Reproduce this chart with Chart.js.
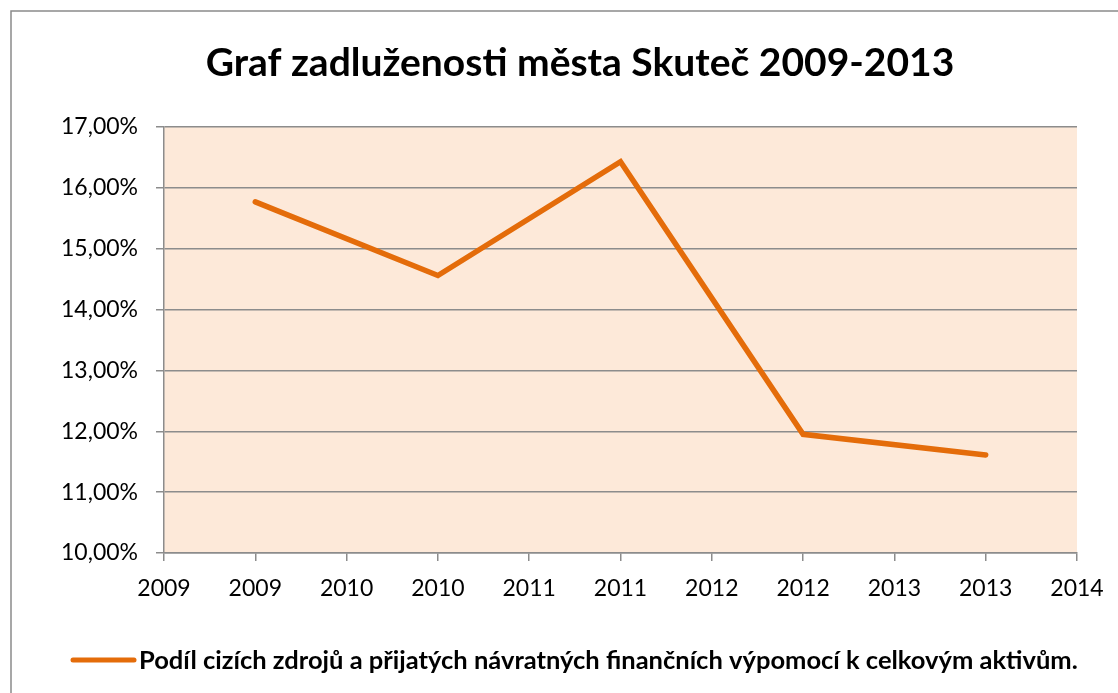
<!DOCTYPE html>
<html>
<head>
<meta charset="utf-8">
<script src="https://cdn.jsdelivr.net/npm/chart.js@4/dist/chart.umd.min.js"></script>
<style>
  html, body { margin: 0; padding: 0; background: #ffffff; }
  #wrap { width: 1118px; height: 693px; position: relative; }
</style>
</head>
<body>
<div id="wrap"><canvas id="chart" width="1118" height="693"></canvas></div>
<script>
// data
const years = ['2009', '2010', '2011', '2012', '2013'];
const shares = [15.77, 14.56, 16.43, 11.95, 11.61]; // % share
const xTickLabels = ['2009', '2009', '2010', '2010', '2011', '2011', '2012', '2012', '2013', '2013', '2014'];
const chartTitle = 'Graf zadluženosti města Skuteč 2009-2013';
const seriesName = 'Podíl cizích zdrojů a přijatých návratných finančních výpomocí k celkovým aktivům.';

const lineColor = '#E46C0A';
const plotBg = '#FDE9D9';
const gridColor = '#8C8C8C';
const font = 'Lato, "Open Sans", sans-serif';

// each year sits on every second tick of the date axis
const seriesData = xTickLabels.map(() => null);
years.forEach((y, i) => { seriesData[2 * i + 1] = shares[i]; });

// plot background, outer frame, and title/legend placed like the Excel original
// (the built-in ones centre over the whole canvas, which sits them too far left)
const framePlugin = {
    id: 'frame',
    beforeDraw(chart) {
        const { ctx, chartArea: a } = chart;
        ctx.save();
        ctx.fillStyle = plotBg;
        ctx.fillRect(a.left, a.top, a.right - a.left, a.bottom - a.top);
        ctx.strokeStyle = '#8A8A8A';
        ctx.lineWidth = 1.5;
        ctx.strokeRect(11, 11, 1200, 800);
        ctx.restore();
    },
    afterDraw(chart) {
        const ctx = chart.ctx;
        const ds = chart.data.datasets[0];
        ctx.save();
        ctx.fillStyle = '#000000';
        ctx.textBaseline = 'middle';

        ctx.textAlign = 'center';
        ctx.font = 'bold 39px ' + font;
        ctx.fillText(chartTitle, 580, 63);

        ctx.strokeStyle = ds.borderColor;
        ctx.lineWidth = 5;
        ctx.lineCap = 'round';
        ctx.beginPath();
        ctx.moveTo(73, 660);
        ctx.lineTo(134, 660);
        ctx.stroke();

        ctx.textAlign = 'left';
        ctx.font = 'bold 25.5px ' + font;
        ctx.fillText(ds.label, 139, 661);
        ctx.restore();
    }
};

new Chart(document.getElementById('chart'), {
    type: 'line',
    data: {
        labels: xTickLabels,
        datasets: [{
            label: seriesName,
            data: seriesData,
            borderColor: lineColor,
            backgroundColor: lineColor,
            borderWidth: 5.5,
            pointRadius: 0,
            spanGaps: true,
            tension: 0,
            borderCapStyle: 'round',
            borderJoinStyle: 'miter'
        }]
    },
    options: {
        responsive: false,
        animation: false,
        layout: { padding: { left: 20, right: 41, top: 127, bottom: 56 } },
        plugins: {
            title: { display: false },
            legend: { display: false },
            tooltip: { enabled: false }
        },
        scales: {
            x: {
                offset: false,
                afterFit: (s) => { s.height = 84; },
                grid: {
                    display: true,
                    drawOnChartArea: false,
                    color: gridColor,
                    lineWidth: 1.5,
                    tickLength: 8
                },
                border: { color: gridColor, width: 1.5 },
                ticks: {
                    color: '#000000',
                    autoSkip: false,
                    maxRotation: 0,
                    padding: 14,
                    font: { family: font, size: 23 }
                }
            },
            y: {
                min: 10,
                max: 17,
                afterFit: (s) => { s.width = 144; },
                grid: { color: gridColor, lineWidth: 1.5, tickLength: 8 },
                border: { color: gridColor, width: 1.5 },
                ticks: {
                    stepSize: 1,
                    color: '#000000',
                    padding: 18,
                    font: { family: font, size: 23 },
                    callback: (v) => v.toFixed(2).replace('.', ',') + '%'
                }
            }
        }
    },
    plugins: [framePlugin]
});
</script>
</body>
</html>
